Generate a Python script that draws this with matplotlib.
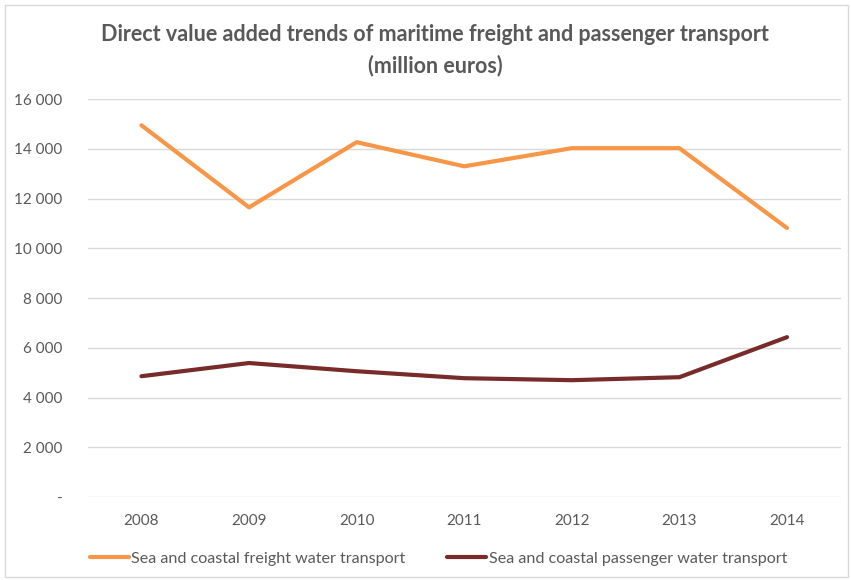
import matplotlib.pyplot as plt
from matplotlib.patches import Rectangle
from matplotlib.ticker import FuncFormatter

# Direct value added, million euros
years = ["2008", "2009", "2010", "2011", "2012", "2013", "2014"]
freight = [14950, 11650, 14270, 13300, 14030, 14030, 10820]
passenger = [4860, 5390, 5060, 4780, 4700, 4820, 6430]

plt.rcParams['font.family'] = ['Lato', 'DejaVu Sans']
text_col = '#595959'

fig = plt.figure(figsize=(8.51, 5.80), dpi=100)
ax = fig.add_axes([0.103, 0.143, 0.885, 0.686])

x = range(len(years))
l1, = ax.plot(x, freight, color='#F79646', lw=3, solid_capstyle='round',
              label='Sea and coastal freight water transport')
l2, = ax.plot(x, passenger, color='#772C2A', lw=3, solid_capstyle='round',
              label='Sea and coastal passenger water transport')

ax.set_xlim(-0.5, len(years) - 0.5)
ax.set_ylim(0, 16000)
ax.set_yticks(range(0, 16001, 2000))
ax.yaxis.set_major_formatter(FuncFormatter(
    lambda v, p: '-' if v == 0 else f"{int(v):,}".replace(',', ' ')))
ax.set_xticks(list(x))
ax.set_xticklabels(years)
ax.grid(axis='y', color='#D9D9D9', lw=1)
ax.set_axisbelow(True)
for s in ax.spines.values():
    s.set_visible(False)
ax.tick_params(length=0, labelsize=11, colors=text_col)
ax.tick_params(axis='x', pad=12)
ax.tick_params(axis='y', pad=18)

fig.text(0.511, 0.94, "Direct value added trends of maritime freight and passenger transport",
         ha='center', va='center', fontsize=15.5, fontweight='bold', color=text_col)
fig.text(0.511, 0.887, "(million euros)", ha='center', va='center',
         fontsize=15.5, fontweight='bold', color=text_col)

fig.legend(handles=[l1, l2], loc='center left', bbox_to_anchor=(0.089, 0.037),
           ncol=2, frameon=False, fontsize=11.6, labelcolor=text_col,
           handlelength=2.4, handletextpad=0.15, columnspacing=2.6)

# thin frame round the whole chart
fig.patches.append(Rectangle((0.006, 0.005), 0.99, 0.987, transform=fig.transFigure,
                             fill=False, edgecolor='#D9D9D9', lw=1))

fig.savefig('out.png', dpi=100)
